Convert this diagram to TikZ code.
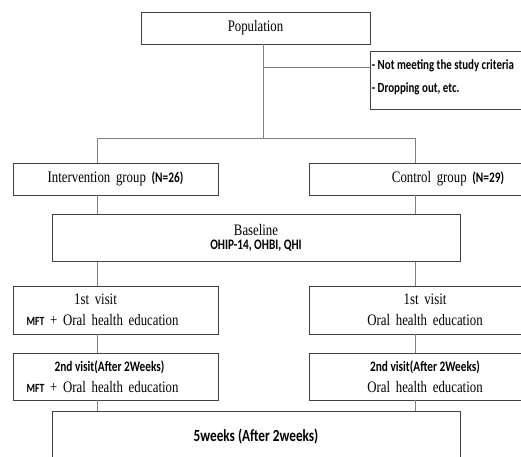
\documentclass[tikz,border=0pt]{standalone}
\usepackage{fontspec}
\setmainfont{Liberation Serif}[FakeStretch=0.8,WordSpace=1.8]
\newfontfamily\gothic{Carlito}[FakeStretch=0.78]
\usetikzlibrary{positioning}

\newcommand\serifsize{\fontsize{16bp}{21bp}\selectfont}
\newcommand\gsmall[1]{{\gothic\bfseries\fontsize{14.5bp}{21bp}\selectfont #1}}
\newcommand\gtiny[1]{{\gothic\bfseries\fontsize{12.5bp}{21bp}\selectfont #1}}
\newcommand\gbig[1]{{\gothic\bfseries\fontsize{17bp}{21bp}\selectfont #1}}
\newcommand\fullline[1]{\makebox[166bp][l]{#1}}
\newcommand\leftish[2]{#2\kern#1\mbox{}}

\tikzset{
  box/.style={draw=black!75, line width=0.8bp, inner sep=2bp, align=center,
    minimum height=32bp, font=\serifsize},
  link/.style={draw=black!50, line width=0.9bp}
}

\begin{document}
\begin{tikzpicture}[x=1bp,y=-1bp]
\useasboundingbox (0,0) rectangle (521,457);
\clip (0,0) rectangle (521,457);

\node[box, anchor=north west, align=left, inner xsep=1.5bp, inner ysep=4bp,
  text depth=13bp, font=\gothic\bfseries\fontsize{14bp}{23bp}\selectfont]
  (excl) at (370,51) {\fullline{\rule{0pt}{14.5bp}- Not meeting the study criteria}\\\fullline{- Dropping out, etc.}};
\node[box, minimum width=229bp] (pop) at (255.5,28) {Population};

\node[box, minimum width=205bp] (ig) at (115.5,179) {Intervention group \gsmall{(N=26)}};
\node[box, minimum width=278bp] (cg) at (448,179) {Control group \gsmall{(N=29)}};

\node[box, minimum width=408bp, minimum height=47bp] (base) at (256,238)
  {Baseline\\[-7bp]\gsmall{OHIP-14, OHBI, QHI}};

\node[box, minimum width=205bp, minimum height=48bp] (v1a) at (115.5,310)
  {\leftish{40bp}{1st visit}\\\leftish{26bp}{\gtiny{MFT} + Oral health education}};
\node[box, minimum width=232bp, minimum height=48bp] (v1b) at (425,310)
  {1st visit\\Oral health education};

\node[box, minimum width=205bp, minimum height=47bp] (v2a) at (115.5,376.5)
  {\leftish{12bp}{\gsmall{2nd visit(After 2Weeks)}}\\\leftish{26bp}{\gtiny{MFT} + Oral health education}};
\node[box, minimum width=232bp, minimum height=47bp] (v2b) at (425,376.5)
  {\gsmall{2nd visit(After 2Weeks)}\\Oral health education};

\node[box, anchor=north, minimum width=408bp, minimum height=50bp] (wk5) at (256,411)
  {\gbig{5weeks (After 2weeks)}};

\coordinate (split) at (263,138);
\coordinate (cut) at (263,67);
\coordinate (lt) at (97,138);
\coordinate (rt) at (415,138);

\draw[link] (pop.south -| split) -- (split);
\draw[link] (cut) -- (cut -| excl.west);
\draw[link] (lt) -- (rt);
\draw[link] (lt) -- (lt |- ig.north);
\draw[link] (rt) -- (rt |- cg.north);

\foreach \u/\v in {ig/base,base/v1a,v1a/v2a,v2a/wk5}
  \draw[link] (lt |- \u.south) -- (lt |- \v.north);
\foreach \u/\v in {cg/base,base/v1b,v1b/v2b,v2b/wk5}
  \draw[link] (rt |- \u.south) -- (rt |- \v.north);

\end{tikzpicture}
\end{document}
